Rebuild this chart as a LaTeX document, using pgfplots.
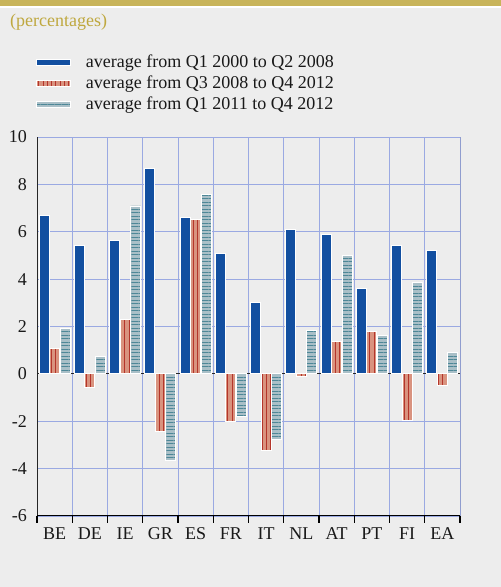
\documentclass[border=0pt]{standalone}
\usepackage{fontspec}
\setmainfont{Liberation Serif}
\usepackage{pgfplots}
\pgfplotsset{compat=1.18}
\usetikzlibrary{patterns.meta}
\definecolor{bg}{HTML}{EDEDED}
\definecolor{gold}{HTML}{C8B45A}
\definecolor{goldtext}{HTML}{BFA83F}
\definecolor{ecbblue}{HTML}{124FA0}
\definecolor{salmon}{HTML}{D9937F}
\definecolor{darkred}{HTML}{B4352B}
\definecolor{lightgb}{HTML}{A9BFC7}
\definecolor{tealc}{HTML}{4D8797}
\definecolor{gridc}{HTML}{9AA9E2}
\newcommand{\fs}{\fontsize{18bp}{21bp}\selectfont}
\begin{document}
\begin{tikzpicture}
\fill[bg] (0bp,0bp) rectangle (501bp,587bp);
\fill[gold] (0bp,581.3bp) rectangle (501bp,587bp);
\fill[white] (0bp,578.7bp) rectangle (501bp,581.3bp);
\node[anchor=base west, inner sep=0pt, text=goldtext, font=\fs] at (10bp,560bp) {(percentages)};
\begin{axis}[
 at={(37bp,71bp)}, anchor=south west,
 scale only axis, width=423bp, height=379bp,
 xmin=-0.5, xmax=11.5, ymin=-6, ymax=10,
 ybar=0.5bp, bar width=10bp,
 axis line style={draw=none},
 xtick={0,...,11}, xticklabels={BE,DE,IE,GR,ES,FR,IT,NL,AT,PT,FI,EA},
 minor xtick={-0.5,0.5,...,11.5},
 xtick pos=left, ytick pos=left,
 tick align=outside,
 major tick length=0pt,
 minor tick length=7bp,
 major x tick style={draw=none},
 major y tick style={draw=none},
 minor x tick style={black, line width=1.2bp},
 ytick={-6,-4,...,10}, yticklabels={-6,-4,-2,0,2,4,6,8,10},
 ymajorgrids, xminorgrids,
 grid style={gridc, line width=0.8bp},
 minor grid style={gridc, line width=0.8bp},
 extra y ticks={0}, extra y tick labels={},
 extra y tick style={grid style={black!85, line width=1bp}},
 tick label style={font=\fs, text=black!90},
 yticklabel style={anchor=east, inner sep=0pt, xshift=-10bp},
 xticklabel style={anchor=north, inner sep=0pt, text height=12bp, yshift=-11bp},
 legend cell align=left,
 legend style={at={(axis description cs:0,1)}, anchor=north west, xshift=-1bp, yshift=83bp,
   draw=none, fill=none, inner sep=0pt, row sep=4bp, column sep=15bp,
   font=\fs, text=black!90,
   nodes={inner sep=0pt, text height=13bp, text depth=4bp}},
 legend image code/.code={\draw[#1] (0bp,-3bp) rectangle (34bp,3bp);},
]
\addplot[fill=ecbblue, draw=white, line width=0.8bp] coordinates {
(0,6.69) (1,5.43) (2,5.64) (3,8.68) (4,6.61) (5,5.07) (6,3.02) (7,6.09) (8,5.87) (9,3.60) (10,5.41) (11,5.21)};
\addplot[fill=salmon, draw=white, line width=0.8bp,
  postaction={pattern={Lines[angle=90,distance=4.3bp,line width=1bp]}, pattern color=darkred}] coordinates {
(0,1.09) (1,-0.56) (2,2.31) (3,-2.44) (4,6.53) (5,-1.99) (6,-3.22) (7,-0.10) (8,1.36) (9,1.78) (10,-1.96) (11,-0.49)};
\addplot[fill=lightgb, draw=white, line width=0.8bp,
  postaction={pattern={Lines[angle=0,distance=3.5bp,line width=0.9bp]}, pattern color=tealc}] coordinates {
(0,1.93) (1,0.73) (2,7.09) (3,-3.64) (4,7.59) (5,-1.78) (6,-2.78) (7,1.82) (8,5.01) (9,1.64) (10,3.87) (11,0.90)};
\legend{average from Q1 2000 to Q2 2008, average from Q3 2008 to Q4 2012, average from Q1 2011 to Q4 2012}
\draw[black!85, line width=1bp] (rel axis cs:0,0) -- (rel axis cs:0,1);
\draw[black!70, line width=1bp] (rel axis cs:1,0) -- (rel axis cs:1,1);
\draw[black, line width=1.2bp] (rel axis cs:0,0) -- (rel axis cs:1,0);
\node[anchor=west, inner sep=0pt, font=\fs, text=black!90, xshift=14bp] at (axis cs:11.5,10) {10};
\node[anchor=west, inner sep=0pt, font=\fs, text=black!90, xshift=14bp] at (axis cs:11.5,8) {8};
\node[anchor=west, inner sep=0pt, font=\fs, text=black!90, xshift=14bp] at (axis cs:11.5,6) {6};
\node[anchor=west, inner sep=0pt, font=\fs, text=black!90, xshift=14bp] at (axis cs:11.5,4) {4};
\node[anchor=west, inner sep=0pt, font=\fs, text=black!90, xshift=14bp] at (axis cs:11.5,2) {2};
\node[anchor=west, inner sep=0pt, font=\fs, text=black!90, xshift=14bp] at (axis cs:11.5,0) {0};
\node[anchor=west, inner sep=0pt, font=\fs, text=black!90, xshift=14bp] at (axis cs:11.5,-2) {\llap{-}2};
\node[anchor=west, inner sep=0pt, font=\fs, text=black!90, xshift=14bp] at (axis cs:11.5,-4) {\llap{-}4};
\node[anchor=west, inner sep=0pt, font=\fs, text=black!90, xshift=14bp] at (axis cs:11.5,-6) {\llap{-}6};
\end{axis}
\end{tikzpicture}
\end{document}
